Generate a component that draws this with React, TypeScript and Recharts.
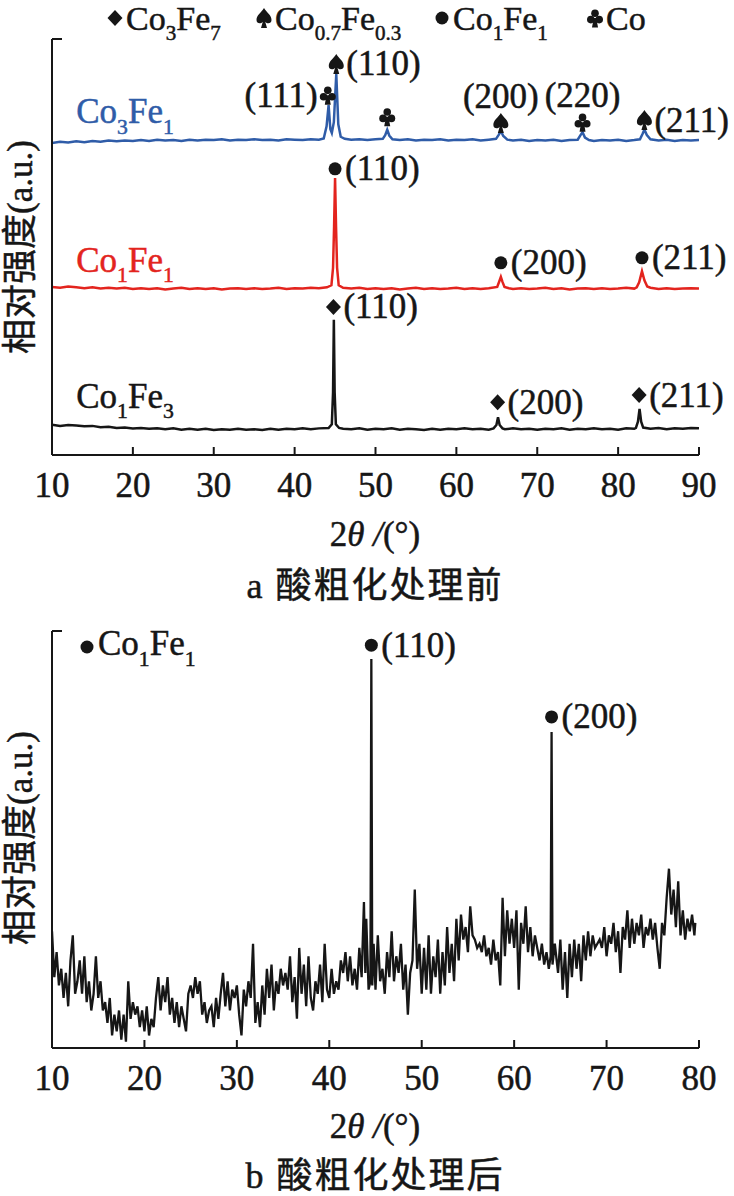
import React from "react";
import { LineChart, Line, XAxis, YAxis, ReferenceDot } from "recharts";

const SERIF = "'Liberation Serif', 'Times New Roman', serif, 'Noto Sans CJK SC'";
const INK = "#161616";
const BLUE = "#2f5ca8";
const RED = "#e3241e";
const HEAVY = 0.5; // thin outline that thickens the scanned-looking type

type XY = [number, number];
type Part = [string, boolean];
type Mark = "diamond" | "spade" | "circle" | "club";
type Peak = { t: number; v: number; mark: Mark; hkl?: string; side?: "right" | "left" | "above" };

// ---------- a: before acid roughening ----------
const ticksA = [10, 20, 30, 40, 50, 60, 70, 80, 90];

const co3fe1: XY[] = [
  [10, 75.0], [11, 75.3], [12, 75.1], [13, 75.4], [14, 75.2], [15, 75.5], [16, 75.3], [17, 75.6],
  [18, 75.4], [19, 75.6], [20, 75.5], [21, 75.7], [22, 75.5], [23, 75.8], [24, 75.6], [25, 75.7],
  [26, 75.5], [27, 75.8], [28, 75.6], [29, 75.8], [30, 75.7], [31, 75.9], [32, 75.6], [33, 75.8],
  [34, 75.7], [35, 75.9], [36, 75.7], [37, 75.8], [38, 75.6], [39, 75.9], [40, 75.8], [41, 75.7],
  [42, 75.9], [43, 75.8], [43.6, 76.1], [43.95, 79], [44.2, 84.1], [44.42, 78.3], [44.6, 77.4],
  [44.85, 80], [45.15, 91.6], [45.4, 79.5], [45.7, 76.5], [46.2, 76.0], [47, 75.8], [48, 75.9],
  [49, 75.7], [50, 75.9], [50.9, 76.0], [51.2, 76.9], [51.45, 78.2], [51.7, 76.8], [52.1, 75.9],
  [53, 75.7], [54, 75.9], [55, 75.6], [56, 75.8], [57, 75.7], [58, 75.9], [59, 75.6], [60, 75.8],
  [61, 75.7], [62, 75.9], [63, 75.6], [64, 75.8], [64.9, 76.0], [65.25, 77.0], [65.5, 77.9],
  [65.8, 76.7], [66.3, 75.8], [67, 75.6], [68, 75.8], [69, 75.5], [70, 75.7], [71, 75.6], [72, 75.8],
  [73, 75.5], [74, 75.7], [75, 75.8], [75.35, 76.9], [75.6, 77.6], [75.9, 76.3], [76.4, 75.7],
  [77, 75.5], [78, 75.7], [79, 75.6], [80, 75.8], [81, 75.5], [82, 75.7], [82.7, 75.9], [83.0, 77.1],
  [83.25, 78.2], [83.55, 76.9], [84, 75.9], [85, 75.6], [86, 75.8], [87, 75.5], [88, 75.7], [89, 75.6],
  [90, 75.7],
];

const co1fe1: XY[] = [
  [10, 40.4], [11, 40.2], [12, 40.5], [13, 40.3], [14, 40.1], [15, 40.3], [16, 40.0], [17, 40.2],
  [18, 40.0], [19, 40.2], [20, 39.9], [21, 40.1], [22, 39.9], [23, 40.1], [24, 39.8], [25, 40.0],
  [26, 40.2], [27, 39.9], [28, 40.1], [29, 39.9], [30, 40.1], [31, 39.8], [32, 40.0], [33, 40.1],
  [34, 39.9], [35, 40.1], [36, 39.9], [37, 40.0], [38, 40.2], [39, 39.9], [40, 40.1], [41, 40.0],
  [42, 40.2], [43, 40.1], [44, 40.3], [44.55, 40.8], [44.75, 45], [44.88, 55], [45.0, 66.6],
  [45.12, 55], [45.25, 45], [45.45, 40.8], [46, 40.2], [47, 40.0], [48, 40.2], [49, 39.9], [50, 40.1],
  [51, 39.9], [52, 40.1], [53, 39.8], [54, 40.0], [55, 40.2], [56, 39.9], [57, 40.1], [58, 39.9],
  [59, 40.0], [60, 40.2], [61, 39.9], [62, 40.1], [63, 39.9], [64, 40.1], [65.05, 40.4], [65.3, 41.7],
  [65.5, 42.8], [65.7, 41.6], [65.95, 40.4], [66.5, 40.1], [67, 39.9], [68, 40.1], [69, 39.9],
  [70, 40.0], [71, 40.2], [72, 39.9], [73, 40.1], [74, 39.8], [75, 40.0], [76, 40.1], [77, 39.9],
  [78, 40.1], [79, 39.9], [80, 40.0], [81, 40.2], [82, 40.0], [82.3, 40.3], [82.6, 41.5],
  [82.95, 44.2], [83.25, 42.0], [83.6, 40.5], [84, 40.2], [85, 39.9], [86, 40.1], [87, 39.9],
  [88, 40.0], [89, 40.1], [90, 40.0],
];

const co1fe3: XY[] = [
  [10, 7.3], [11, 7.0], [12, 7.2], [13, 7.1], [14, 6.9], [15, 7.0], [16, 6.7], [17, 6.8], [18, 6.5],
  [19, 6.6], [20, 6.4], [21, 6.5], [22, 6.3], [23, 6.4], [24, 6.2], [25, 6.4], [26, 6.1], [27, 6.3],
  [28, 6.1], [29, 6.3], [30, 6.0], [31, 6.2], [32, 6.1], [33, 6.3], [34, 6.1], [35, 6.2], [36, 6.0],
  [37, 6.3], [38, 6.1], [39, 6.3], [40, 6.2], [41, 6.4], [42, 6.2], [43, 6.4], [44.2, 6.5],
  [44.6, 7.4], [44.75, 15], [44.85, 32.5], [44.95, 15], [45.1, 7.4], [45.5, 6.5], [46, 6.3],
  [47, 6.2], [48, 6.4], [49, 6.1], [50, 6.3], [51, 6.2], [52, 6.4], [53, 6.1], [54, 6.3], [55, 6.2],
  [56, 6.0], [57, 6.3], [58, 6.1], [59, 6.3], [60, 6.2], [61, 6.4], [62, 6.2], [63, 6.3], [64, 6.1],
  [64.6, 6.4], [64.95, 7.2], [65.15, 9.1], [65.35, 7.2], [65.7, 6.4], [66, 6.2], [67, 6.4], [68, 6.2],
  [69, 6.3], [70, 6.1], [71, 6.3], [72, 6.2], [73, 6.4], [74, 6.1], [75, 6.3], [76, 6.2], [77, 6.4],
  [78, 6.2], [79, 6.3], [80, 6.1], [81, 6.4], [82, 6.3], [82.2, 6.5], [82.45, 8], [82.65, 11.1],
  [82.85, 8], [83.1, 6.6], [84, 6.3], [85, 6.5], [86, 6.2], [87, 6.4], [88, 6.3], [89, 6.5], [90, 6.4],
];

const peaksA: Peak[] = [
  { t: 44.1, v: 86.5, mark: "club", hkl: "(111)", side: "left" },
  { t: 45.15, v: 94.0, mark: "spade", hkl: "(110)", side: "right" },
  { t: 51.45, v: 81.3, mark: "club" },
  { t: 65.5, v: 79.8, mark: "spade", hkl: "(200)", side: "above" },
  { t: 75.6, v: 80.0, mark: "club", hkl: "(220)", side: "above" },
  { t: 83.25, v: 80.5, mark: "spade", hkl: "(211)", side: "right" },
  { t: 45.0, v: 68.8, mark: "circle", hkl: "(110)", side: "right" },
  { t: 65.5, v: 46.2, mark: "circle", hkl: "(200)", side: "right" },
  { t: 82.95, v: 47.4, mark: "circle", hkl: "(211)", side: "right" },
  { t: 44.8, v: 35.6, mark: "diamond", hkl: "(110)", side: "right" },
  { t: 65.1, v: 12.7, mark: "diamond", hkl: "(200)", side: "right" },
  { t: 82.6, v: 14.4, mark: "diamond", hkl: "(211)", side: "right" },
];

const namesA: { t: number; v: number; parts: Part[]; color: string }[] = [
  { t: 13, v: 79.8, parts: [["Co", false], ["3", true], ["Fe", false], ["1", true]], color: BLUE },
  { t: 13, v: 44.0, parts: [["Co", false], ["1", true], ["Fe", false], ["1", true]], color: RED },
  { t: 13, v: 11.3, parts: [["Co", false], ["1", true], ["Fe", false], ["3", true]], color: INK },
];

const legendA: { mark: Mark; parts: Part[] }[] = [
  { mark: "diamond", parts: [["Co", false], ["3", true], ["Fe", false], ["7", true]] },
  { mark: "spade", parts: [["Co", false], ["0.7", true], ["Fe", false], ["0.3", true]] },
  { mark: "circle", parts: [["Co", false], ["1", true], ["Fe", false], ["1", true]] },
  { mark: "club", parts: [["Co", false]] },
];
const legendAX = [115, 264, 442, 595];

// ---------- b: after acid roughening ----------
const ticksB = [10, 20, 30, 40, 50, 60, 70, 80];

const scanB: XY[] = [
  [10.0, 28], [10.25, 17], [10.5, 23], [10.75, 15], [11.0, 19], [11.25, 12], [11.5, 18], [11.75, 10],
  [12.0, 21], [12.25, 27], [12.5, 13], [12.75, 16], [13.0, 21], [13.25, 13], [13.5, 22], [13.75, 11],
  [14.0, 16], [14.25, 9], [14.5, 13], [14.75, 22], [15.0, 12], [15.25, 16], [15.5, 9], [15.75, 11],
  [16.0, 6], [16.25, 12], [16.5, 3], [16.75, 8], [17.0, 4], [17.25, 9], [17.5, 2], [17.75, 8],
  [18.0, 1.5], [18.25, 16], [18.5, 7], [18.75, 11], [19.0, 8], [19.25, 10], [19.5, 5], [19.75, 9],
  [20.0, 4], [20.25, 10], [20.5, 3], [20.75, 7], [21.0, 5], [21.25, 12], [21.5, 17], [21.75, 9],
  [22.0, 15], [22.25, 11], [22.5, 17], [22.75, 8], [23.0, 12], [23.25, 6], [23.5, 11], [23.75, 5],
  [24.0, 10], [24.25, 7], [24.5, 4], [24.75, 13], [25.0, 15], [25.25, 12], [25.5, 17], [25.75, 13],
  [26.0, 16], [26.25, 8], [26.5, 11], [26.75, 6], [27.0, 9], [27.25, 10], [27.5, 5], [27.75, 12],
  [28.0, 7], [28.25, 13], [28.5, 18], [28.75, 10], [29.0, 16], [29.25, 9], [29.5, 14], [29.75, 12],
  [30.0, 15], [30.25, 8], [30.5, 3], [30.75, 14], [31.0, 10], [31.25, 16], [31.5, 12], [31.75, 25],
  [32.0, 6], [32.25, 11], [32.5, 5], [32.75, 15], [33.0, 8], [33.25, 19], [33.5, 12], [33.75, 20],
  [34.0, 9], [34.25, 16], [34.5, 13], [34.75, 19], [35.0, 15], [35.25, 18], [35.5, 14], [35.75, 22],
  [36.0, 11], [36.25, 17], [36.5, 7], [36.75, 24], [37.0, 13], [37.25, 20], [37.5, 10], [37.75, 22],
  [38.0, 12], [38.25, 9], [38.5, 16], [38.75, 13], [39.0, 20], [39.25, 11], [39.5, 25], [39.75, 14],
  [40.0, 12], [40.25, 19], [40.5, 13], [40.75, 16], [41.0, 14], [41.25, 21], [41.5, 18], [41.75, 23],
  [42.0, 16], [42.25, 22], [42.5, 15], [42.75, 19], [43.0, 14], [43.25, 24], [43.5, 17], [43.75, 35],
  [43.9, 18], [44.0, 31], [44.25, 14], [44.45, 16], [44.55, 93.3], [44.65, 15], [44.8, 25], [45.0, 14],
  [45.25, 27], [45.5, 16], [45.75, 19], [46.0, 13], [46.25, 23], [46.5, 17], [46.75, 28], [47.0, 16],
  [47.25, 22], [47.5, 18], [47.75, 25], [48.0, 14], [48.25, 20], [48.5, 8], [48.75, 18], [49.0, 21],
  [49.25, 38], [49.5, 19], [49.75, 25], [50.0, 13], [50.25, 24], [50.5, 14], [50.75, 27], [51.0, 13],
  [51.25, 22], [51.5, 17], [51.75, 26], [52.0, 13], [52.25, 23], [52.5, 15], [52.75, 29], [53.0, 18],
  [53.25, 25], [53.5, 16], [53.75, 31], [54.0, 21], [54.25, 32], [54.5, 26], [54.75, 29], [55.0, 23],
  [55.25, 34], [55.5, 27], [55.75, 26], [56.0, 24], [56.25, 25], [56.5, 23], [56.75, 27], [57.0, 22],
  [57.25, 24], [57.5, 20], [57.75, 26], [58.0, 21], [58.25, 23], [58.5, 15], [58.75, 36], [59.0, 22],
  [59.25, 33], [59.5, 25], [59.75, 31], [60.0, 24], [60.25, 33], [60.5, 14], [60.75, 30], [61.0, 25],
  [61.25, 34], [61.5, 23], [61.75, 29], [62.0, 22], [62.25, 27], [62.5, 24], [62.75, 21], [63.0, 25],
  [63.25, 20], [63.5, 23], [63.75, 19], [63.95, 22], [64.05, 75.8], [64.15, 20], [64.4, 25], [64.75, 18],
  [65.0, 26], [65.25, 14], [65.5, 23], [65.75, 12], [66.0, 25], [66.25, 17], [66.5, 26], [66.75, 19],
  [67.0, 25], [67.25, 16], [67.5, 27], [67.75, 21], [68.0, 28], [68.25, 22], [68.5, 27], [68.75, 24],
  [69.0, 25], [69.25, 26], [69.5, 24], [69.75, 29], [70.0, 22], [70.25, 27], [70.5, 25], [70.75, 30],
  [71.0, 23], [71.25, 28], [71.5, 18], [71.75, 29], [72.0, 26], [72.25, 33], [72.5, 24], [72.75, 31],
  [73.0, 25], [73.25, 30], [73.5, 27], [73.75, 32], [74.0, 24], [74.25, 29], [74.5, 27], [74.75, 31],
  [75.0, 26], [75.25, 30], [75.5, 24], [75.75, 19], [76.0, 30], [76.25, 27], [76.5, 36], [76.75, 43],
  [77.0, 32], [77.25, 38], [77.5, 29], [77.75, 40], [78.0, 27], [78.25, 33], [78.5, 26], [78.75, 31],
  [79.0, 28], [79.25, 32], [79.5, 27], [79.6, 30],
];

const peaksB: Peak[] = [
  { t: 44.55, v: 96.6, mark: "circle", hkl: "(110)", side: "right" },
  { t: 64.05, v: 79.4, mark: "circle", hkl: "(200)", side: "right" },
];
const legendB: Part[] = [["Co", false], ["1", true], ["Fe", false], ["1", true]];

const pts = (a: XY[]) => a.map(([t, v]) => ({ t, v }));

function Chem({ x, y, parts, size, fill }: any) {
  const off = size * 0.3;
  let prev = false;
  return (
    <text x={x} y={y} fontFamily={SERIF} fontSize={size} fill={fill} stroke={fill} strokeWidth={HEAVY}>
      {parts.map(([s, sub]: Part, i: number) => {
        const dy = (sub ? off : 0) - (prev ? off : 0);
        prev = sub;
        return (
          <tspan key={i} dy={dy} fontSize={sub ? size * 0.62 : size}>
            {s}
          </tspan>
        );
      })}
    </text>
  );
}

// card-suit style markers drawn as paths, centred on (cx, cy)
function Symbol({ cx, cy, kind }: { cx: number; cy: number; kind: Mark }) {
  if (kind === "circle") return <circle cx={cx} cy={cy} r={6.5} fill={INK} />;
  if (kind === "diamond")
    return <polygon points={`${cx},${cy - 8} ${cx + 7.5},${cy} ${cx},${cy + 8} ${cx - 7.5},${cy}`} fill={INK} />;
  if (kind === "spade")
    return (
      <path
        transform={`translate(${cx},${cy})`}
        d="M0,-10 C3,-5 7.5,-3 7.5,2 C7.5,5.5 3.5,6.5 1.2,3.8 L3,10 L-3,10 L-1.2,3.8 C-3.5,6.5 -7.5,5.5 -7.5,2 C-7.5,-3 -3,-5 0,-10 Z"
        fill={INK}
      />
    );
  return (
    <g transform={`translate(${cx},${cy})`} fill={INK}>
      <circle cx={0} cy={-4.8} r={3.8} />
      <circle cx={-4.2} cy={1.6} r={3.8} />
      <circle cx={4.2} cy={1.6} r={3.8} />
      <polygon points="-1.3,0 1.3,0 3,9.5 -3,9.5" />
    </g>
  );
}

function PeakMark({ cx, cy, peak }: any) {
  const p = peak as Peak;
  let label = null;
  if (p.hkl) {
    const common = {
      fontFamily: SERIF,
      fontSize: 35,
      fill: INK,
      stroke: INK,
      strokeWidth: HEAVY,
      dominantBaseline: "central" as const,
    };
    if (p.side === "left")
      label = <text x={cx - 10} y={cy} textAnchor="end" {...common}>{p.hkl}</text>;
    else if (p.side === "above")
      label = <text x={cx} y={cy - 27} textAnchor="middle" {...common}>{p.hkl}</text>;
    else label = <text x={cx + 10} y={cy} textAnchor="start" {...common}>{p.hkl}</text>;
  }
  return (
    <g>
      <Symbol cx={cx} cy={cy} kind={p.mark} />
      {label}
    </g>
  );
}

const XTick = ({ x, y, payload }: any) => (
  <g>
    <line x1={x} x2={x} y1={y} y2={y - 8} stroke={INK} strokeWidth={2} />
    <text
      x={x}
      y={y + 30}
      textAnchor="middle"
      dominantBaseline="central"
      fontFamily={SERIF}
      fontSize={35}
      fill={INK}
      stroke={INK}
      strokeWidth={HEAVY}
    >
      {payload.value}
    </text>
  </g>
);

const TopBracket = ({ x, y }: any) => <line x1={x} x2={x + 10} y1={y} y2={y} stroke={INK} strokeWidth={2} />;

const axisStyle = { stroke: INK, strokeWidth: 2 };

function XAxisLabel({ y }: { y: number }) {
  return (
    <text x={375} y={y} textAnchor="middle" fontFamily={SERIF} fontSize={35} fill={INK} stroke={INK} strokeWidth={HEAVY}>
      2<tspan fontStyle="italic">θ /</tspan>(°)
    </text>
  );
}

function YLabel({ cy }: { cy: number }) {
  return (
    <text
      transform={`translate(20,${cy}) rotate(-90)`}
      textAnchor="middle"
      dominantBaseline="central"
      fontFamily={SERIF}
      fontSize={35}
      fill={INK}
      stroke={INK}
      strokeWidth={HEAVY}
    >
      相对强度(a.u.)
    </text>
  );
}

function Caption({ y, children }: { y: number; children: string }) {
  return (
    <text
      x={375}
      y={y}
      textAnchor="middle"
      fontFamily={SERIF}
      fontSize={36}
      letterSpacing={2}
      fill={INK}
      stroke={INK}
      strokeWidth={HEAVY}
    >
      {children}
    </text>
  );
}

export default function App() {
  return (
    <div style={{ position: "absolute", left: 0, top: 0, width: 734, height: 1196, background: "#fff" }}>
      <div style={{ position: "absolute", left: 0, top: 0 }}>
        <LineChart width={734} height={600} margin={{ top: 39, right: 35, bottom: 0, left: 0 }}>
          <XAxis
            type="number"
            dataKey="t"
            domain={[10, 90]}
            ticks={ticksA}
            interval={0}
            height={145}
            tickSize={0}
            tickMargin={0}
            tickLine={false}
            axisLine={axisStyle}
            tick={(p: any) => <XTick {...p} />}
            allowDataOverflow
          />
          <YAxis
            type="number"
            domain={[0, 100]}
            width={52}
            ticks={[100]}
            tickSize={0}
            tickMargin={0}
            tickLine={false}
            axisLine={axisStyle}
            tick={(p: any) => <TopBracket {...p} />}
          />
          <Line data={pts(co1fe3)} dataKey="v" stroke={INK} strokeWidth={2.5} dot={false} isAnimationActive={false} />
          <Line data={pts(co1fe1)} dataKey="v" stroke={RED} strokeWidth={2.5} dot={false} isAnimationActive={false} />
          <Line data={pts(co3fe1)} dataKey="v" stroke={BLUE} strokeWidth={2.5} dot={false} isAnimationActive={false} />
          {peaksA.map((pk, i) => (
            <ReferenceDot
              key={"pa" + i}
              x={pk.t}
              y={pk.v}
              r={0}
              ifOverflow="visible"
              shape={(p: any) => <PeakMark cx={p.cx} cy={p.cy} peak={pk} />}
            />
          ))}
          {namesA.map((n, i) => (
            <ReferenceDot
              key={"na" + i}
              x={n.t}
              y={n.v}
              r={0}
              ifOverflow="visible"
              shape={(p: any) => <Chem x={p.cx} y={p.cy} parts={n.parts} size={35} fill={n.color} />}
            />
          ))}
        </LineChart>
      </div>

      <div style={{ position: "absolute", left: 0, top: 600 }}>
        <LineChart width={734} height={596} margin={{ top: 31, right: 35, bottom: 0, left: 0 }}>
          <XAxis
            type="number"
            dataKey="t"
            domain={[10, 80]}
            ticks={ticksB}
            interval={0}
            height={148}
            tickSize={0}
            tickMargin={0}
            tickLine={false}
            axisLine={axisStyle}
            tick={(p: any) => <XTick {...p} />}
            allowDataOverflow
          />
          <YAxis
            type="number"
            domain={[0, 100]}
            width={52}
            ticks={[100]}
            tickSize={0}
            tickMargin={0}
            tickLine={false}
            axisLine={axisStyle}
            tick={(p: any) => <TopBracket {...p} />}
          />
          <Line data={pts(scanB)} dataKey="v" stroke={INK} strokeWidth={2.3} dot={false} isAnimationActive={false} />
          {peaksB.map((pk, i) => (
            <ReferenceDot
              key={"pb" + i}
              x={pk.t}
              y={pk.v}
              r={0}
              ifOverflow="visible"
              shape={(p: any) => <PeakMark cx={p.cx} cy={p.cy} peak={pk} />}
            />
          ))}
        </LineChart>
      </div>

      <svg width={734} height={1196} style={{ position: "absolute", left: 0, top: 0, pointerEvents: "none" }}>
        {legendA.map((l, i) => (
          <g key={i}>
            <Symbol cx={legendAX[i]} cy={18} kind={l.mark} />
            <Chem x={legendAX[i] + 11} y={30} parts={l.parts} size={34} fill={INK} />
          </g>
        ))}
        <YLabel cy={247} />
        <XAxisLabel y={546} />
        <Caption y={598}>a 酸粗化处理前</Caption>

        <Symbol cx={87} cy={647} kind="circle" />
        <Chem x={98} y={655} parts={legendB} size={35} fill={INK} />
        <YLabel cy={838} />
        <XAxisLabel y={1138} />
        <Caption y={1188}>b 酸粗化处理后</Caption>
      </svg>
    </div>
  );
}
